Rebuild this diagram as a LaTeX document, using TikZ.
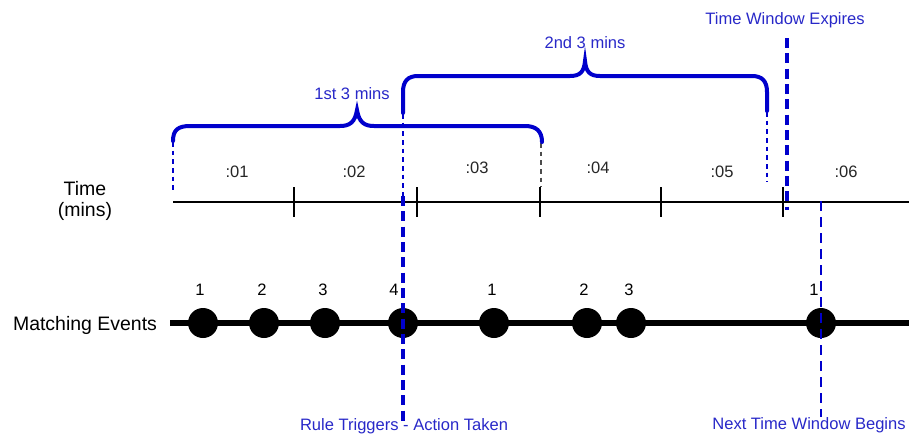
\documentclass[tikz,border=0pt]{standalone}
\usepackage{fontspec}
\setmainfont{Liberation Sans}
\definecolor{bbrace}{RGB}{0,0,204}
\definecolor{btext}{RGB}{40,40,200}
\begin{document}
\begin{tikzpicture}[x=0.75pt,y=-0.75pt,
  big/.style={font=\fontsize{14.6}{16}\selectfont,text=black,inner sep=0pt},
  small/.style={font=\fontsize{12.4}{14}\selectfont,text=black!85,inner sep=0pt},
  blab/.style={font=\fontsize{12.4}{14}\selectfont,text=btext,inner sep=0pt},
  axisline/.style={line width=1pt,black},
  tickline/.style={line width=0.9pt,black},
  bracepath/.style={line width=3pt,bbrace,line cap=round},
  thindash/.style={line width=1pt,bbrace,dash pattern=on 3.5pt off 3pt},
  greydash/.style={line width=1pt,black!70,dash pattern=on 3.5pt off 3pt},
  thickdash/.style={line width=3pt,bbrace,dash pattern=on 7.5pt off 4pt},
  meddash/.style={line width=2.2pt,bbrace,dash pattern=on 7.5pt off 4.5pt},
  evline/.style={line width=4.5pt,black},
  evdot/.style={circle,fill=black,minimum size=22.5pt,inner sep=0pt}]
\useasboundingbox (0,0) rectangle (909,433);
% labels
\node[big,align=center] (timelab) at (85,201) {Time\\(mins)};
\node[big] (evlab) at (85,325) {Matching Events};
% time axis
\coordinate (ax0) at (173,202);
\coordinate (ax1) at (909,202);
\draw[axisline] (ax0) -- (ax1);
\foreach \t/\n in {294/a,417/b,540/c,661/d,783/e}{
  \coordinate (t\n1) at (\t,187);
  \coordinate (t\n2) at (\t,217);
  \draw[tickline] (t\n1) -- (t\n2);
}
\node[small] (m1) at (237,172) {:01};
\node[small] (m2) at (354,172) {:02};
\node[small] (m3) at (477,168) {:03};
\node[small] (m4) at (598,168) {:04};
\node[small] (m5) at (722,172) {:05};
\node[small] (m6) at (846,172) {:06};
% thin dashed guides
\coordinate (g1a) at (173,142); \coordinate (g1b) at (173,193);
\draw[thindash] (g1a) -- (g1b);
\coordinate (g2a) at (403,114); \coordinate (g2b) at (403,196);
\draw[thindash] (g2a) -- (g2b);
\coordinate (g3a) at (541,143); \coordinate (g3b) at (541,187);
\draw[greydash] (g3a) -- (g3b);
\coordinate (g4a) at (767,112); \coordinate (g4b) at (767,182);
\draw[thindash] (g4a) -- (g4b);
% braces
\draw[bracepath] (173,141) .. controls (173,130) and (178,126) .. (190,126) -- (340,126)
  .. controls (350,126) and (355,122) .. (357,110)
  .. controls (359,122) and (364,126) .. (374,126) -- (525,126)
  .. controls (536,126) and (542,131) .. (542,142);
\draw[bracepath] (403,113) -- (403,92) .. controls (403,81) and (408,76) .. (418,76) -- (570,76)
  .. controls (580,76) and (584,72) .. (585,61)
  .. controls (586,72) and (590,76) .. (600,76) -- (752,76)
  .. controls (762,76) and (767,81) .. (767,92) -- (767,111);
\node[blab] (b1) at (352,94) {1st 3 mins};
\node[blab] (b2) at (585,43) {2nd 3 mins};
% events
\coordinate (ev0) at (170,323);
\coordinate (ev1) at (909,323);
\draw[evline] (ev0) -- (ev1);
\foreach \x/\n/\lx/\lab in {203/e1/200/1,264/e2/262/2,325/e3/323/3,403/e4/394/4,494/e5/492/1,587/e6/584/2,631/e7/629/3,821/e8/814/1}{
  \node[evdot] (\n) at (\x,323) {};
  \node[small,text=black] (l\n) at (\lx,290) {\lab};
}
% thick dashed markers
\coordinate (r1) at (403,196); \coordinate (r2) at (403,421);
\draw[thickdash] (r1) -- (r2);
\coordinate (x1) at (787,38); \coordinate (x2) at (787,210);
\draw[thickdash] (x1) -- (x2);
\coordinate (n1) at (821,201); \coordinate (n2) at (821,417);
\draw[meddash] (n1) -- (n2);
\node[blab] (rt) at (404,426) {Rule Triggers - Action Taken};
\node[blab] (tw) at (785,20) {Time Window Expires};
\node[blab] (nt) at (809,425) {Next Time Window Begins};
\end{tikzpicture}
\end{document}
